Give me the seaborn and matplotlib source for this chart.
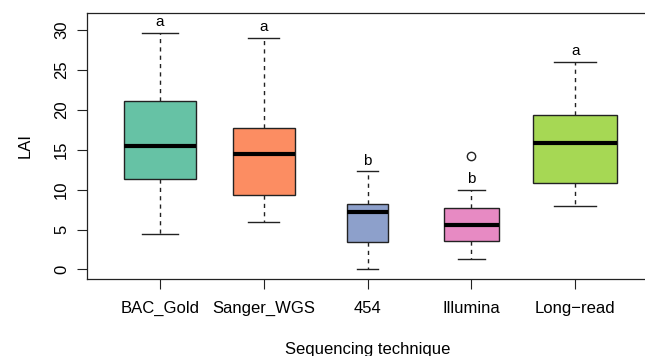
import numpy as np
import pandas as pd
import matplotlib
matplotlib.use("Agg")
import matplotlib.pyplot as plt
import seaborn as sns

categories = ["BAC_Gold", "Sanger_WGS", "454", "Illumina", "Long\u2212read"]
whisker_lo = [4.4, 5.9, 0.0, 1.3, 8.0]
q1 = [11.4, 9.3, 3.4, 3.6, 10.8]
median = [15.5, 14.5, 7.2, 5.6, 15.9]
q3 = [21.1, 17.8, 8.2, 7.7, 19.35]
whisker_hi = [29.7, 29.0, 12.3, 10.0, 26.0]
outliers = [[], [], [], [14.25], []]
letters = ["a", "a", "b", "b", "a"]
rel_widths = [0.70, 0.60, 0.40, 0.53, 0.81]
colors = ["#66C2A5", "#FC8D62", "#8DA0CB", "#E78AC3", "#A6D854"]

# build samples reproducing the five-number summaries
rows = []
for c, lo, a, m, b, hi, out in zip(categories, whisker_lo, q1, median, q3, whisker_hi, outliers):
    if out:
        vals = [lo, a, a, m, m, b, b, hi] + list(out)
    else:
        vals = [lo, a, m, b, hi]
    rows += [(c, v) for v in vals]
df = pd.DataFrame(rows, columns=["tech", "LAI"])

plt.rcParams["font.family"] = ["Liberation Sans", "DejaVu Sans"]
fig = plt.figure(figsize=(6.45, 3.56), dpi=100)
W, H = 645, 356
left, right, top, bottom = 87.3, 648, 12.7, 279
ax = fig.add_axes([left / W, (H - bottom) / H, (right - left) / W, (bottom - top) / H])

edge = "#222222"
for i, c in enumerate(categories):
    sub = df[df["tech"] == c]
    sns.boxplot(data=sub, x="tech", y="LAI", order=categories, ax=ax,
                width=rel_widths[i], color=colors[i], saturation=1,
                linecolor=edge, linewidth=1.0, whis=1.5,
                boxprops=dict(edgecolor=edge, linewidth=1.0),
                medianprops=dict(color="black", linewidth=3, solid_capstyle="butt"),
                whiskerprops=dict(color=edge, linestyle=(0, (3, 3)), linewidth=1.0),
                capprops=dict(color=edge, linewidth=1.0),
                flierprops=dict(marker="o", markerfacecolor="none", markeredgecolor=edge,
                                markersize=6, markeredgewidth=1.0))

for i, (hi, out, lab) in enumerate(zip(whisker_hi, outliers, letters)):
    ax.text(i, hi + 1.35, lab, ha="center", va="center", fontsize=11, color="black")

ax.set_xlim(-0.7, 4.7)
ax.set_ylim(-1.2, 32.2)
ax.set_yticks([0, 5, 10, 15, 20, 25, 30])
ax.set_yticklabels(["0", "5", "10", "15", "20", "25", "30"], rotation=90, va="center")
ax.tick_params(axis="y", length=7, width=0.8, color=edge, pad=6, labelsize=12)
ax.tick_params(axis="x", length=7, width=0.8, color=edge, pad=9, labelsize=12)
for s in ax.spines.values():
    s.set_color(edge)
    s.set_linewidth(0.9)

ax.set_xlabel("Sequencing technique", fontsize=12, va="center")
ax.xaxis.set_label_coords(0.5, -0.263)
ax.set_ylabel("LAI", fontsize=12, va="center")
ax.yaxis.set_label_coords(-0.111, 0.5)

fig.savefig("out.png", dpi=100)
